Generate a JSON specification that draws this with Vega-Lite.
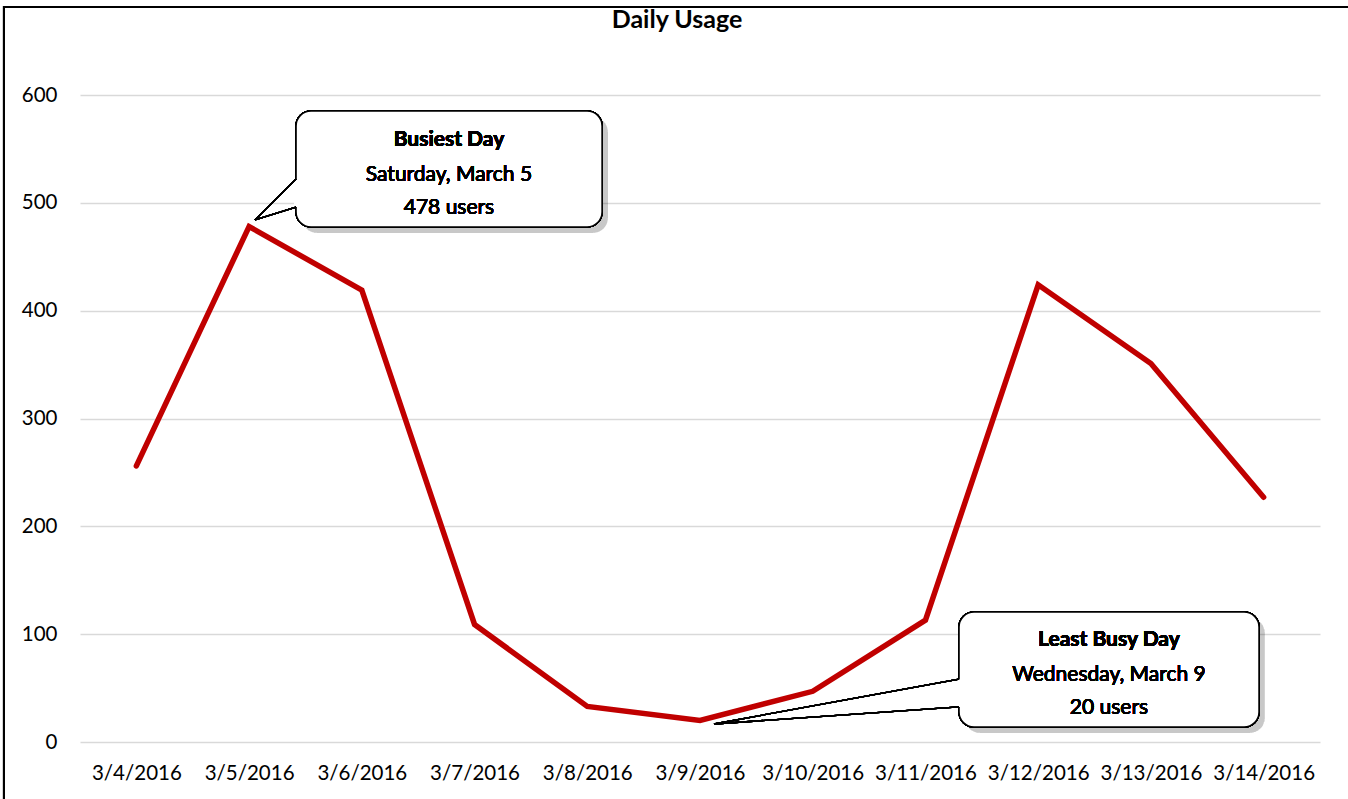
{
  "$schema": "https://vega.github.io/schema/vega-lite/v6.json",
  "autosize": "none",
  "width": 1240,
  "height": 647,
  "padding": {"left": 80, "top": 95, "right": 28, "bottom": 57},
  "background": "white",
  "config": {
    "view": {"stroke": null},
    "font": "Lato",
    "axis": {"labelFont": "Lato", "labelFontSize": 20.5, "labelColor": "#000000", "domain": false, "ticks": false, "gridColor": "#d9d9d9", "gridWidth": 1.3}
  },
  "title": {"text": "Daily Usage", "font": "Lato", "fontSize": 25, "fontWeight": "bold", "color": "#000000", "anchor": "middle", "dx": -23, "dy": 61, "baseline": "alphabetic", "offset": 14},
  "data": {
    "values": [
      {"date": "2016-03-04", "users": 256},
      {"date": "2016-03-05", "users": 478},
      {"date": "2016-03-06", "users": 419},
      {"date": "2016-03-07", "users": 109},
      {"date": "2016-03-08", "users": 33},
      {"date": "2016-03-09", "users": 20},
      {"date": "2016-03-10", "users": 47},
      {"date": "2016-03-11", "users": 113},
      {"date": "2016-03-12", "users": 424},
      {"date": "2016-03-13", "users": 351},
      {"date": "2016-03-14", "users": 227}
    ]
  },
  "encoding": {
    "x": {"field": "date", "type": "temporal",
      "scale": {"type": "utc", "domain": [{"year": 2016, "month": 3, "date": 3, "hours": 12, "utc": true}, {"year": 2016, "month": 3, "date": 14, "hours": 12, "utc": true}]},
      "axis": {"title": null, "format": "%-m/%-d/%Y", "tickCount": {"interval": "day", "step": 1}, "grid": false, "labelPadding": 21, "labelAngle": 0, "labelOverlap": false, "labelFlush": false}},
    "y": {"field": "users", "type": "quantitative",
      "scale": {"domain": [0, 600], "nice": false},
      "axis": {"title": null, "values": [0, 100, 200, 300, 400, 500, 600], "labelPadding": 23, "grid": true}}
  },
  "layer": [
    {"mark": {"type": "line", "color": "#C00000", "strokeWidth": 5.5, "strokeCap": "round", "strokeJoin": "miter"}},
    {
      "mark": {"type": "rect", "fill": "none", "stroke": "#000000", "strokeWidth": 2},
      "encoding": {
        "x": {"datum": {"year": 2016, "month": 3, "date": 2, "hours": 19, "minutes": 49, "utc": true}},
        "x2": {"datum": {"year": 2016, "month": 3, "date": 17, "utc": true}},
        "y": {"datum": 681.6},
        "y2": {"datum": -150}
      }
    },
    {
      "mark": {"type": "rect", "fill": "#000000", "opacity": 0.02, "cornerRadius": 15},
      "encoding": {
        "x": {"datum": {"year": 2016, "month": 3, "date": 5, "hours": 11, "minutes": 15, "utc": true}},
        "x2": {"datum": {"year": 2016, "month": 3, "date": 8, "hours": 4, "minutes": 25, "utc": true}},
        "y": {"datum": 472},
        "y2": {"datum": 579.6}
      }
    },
    {
      "mark": {"type": "rect", "fill": "#000000", "opacity": 0.02, "cornerRadius": 15},
      "encoding": {
        "x": {"datum": {"year": 2016, "month": 3, "date": 11, "hours": 8, "minutes": 24, "utc": true}},
        "x2": {"datum": {"year": 2016, "month": 3, "date": 14, "hours": 0, "minutes": 16, "utc": true}},
        "y": {"datum": 8.3},
        "y2": {"datum": 115}
      }
    },
    {
      "mark": {"type": "rect", "fill": "#ffffff", "stroke": "#000000", "strokeWidth": 1.5, "cornerRadius": 15},
      "encoding": {
        "x": {"datum": {"year": 2016, "month": 3, "date": 5, "hours": 10, "minutes": 0, "utc": true}},
        "x2": {"datum": {"year": 2016, "month": 3, "date": 8, "hours": 3, "minutes": 9, "utc": true}},
        "y": {"datum": 477.6},
        "y2": {"datum": 585.2}
      }
    },
    {
      "mark": {"type": "rect", "fill": "#ffffff", "stroke": "#000000", "strokeWidth": 1.5, "cornerRadius": 15},
      "encoding": {
        "x": {"datum": {"year": 2016, "month": 3, "date": 11, "hours": 7, "minutes": 9, "utc": true}},
        "x2": {"datum": {"year": 2016, "month": 3, "date": 13, "hours": 23, "minutes": 1, "utc": true}},
        "y": {"datum": 13.9},
        "y2": {"datum": 120.6}
      }
    },
    {
      "mark": {"type": "rule", "color": "#ffffff", "strokeWidth": 3},
      "encoding": {
        "x": {"datum": {"year": 2016, "month": 3, "date": 5, "hours": 10, "minutes": 0, "utc": true}},
        "y": {"datum": 496.1},
        "y2": {"datum": 522.1}
      }
    },
    {
      "mark": {"type": "rule", "color": "#ffffff", "strokeWidth": 3},
      "encoding": {
        "x": {"datum": {"year": 2016, "month": 3, "date": 11, "hours": 7, "minutes": 9, "utc": true}},
        "y": {"datum": 32.5},
        "y2": {"datum": 58.4}
      }
    },
    {
      "mark": {"type": "rule", "color": "#000000", "strokeWidth": 1.3},
      "encoding": {
        "x": {"datum": {"year": 2016, "month": 3, "date": 5, "hours": 1, "minutes": 15, "utc": true}},
        "y": {"datum": 484.1},
        "x2": {"datum": {"year": 2016, "month": 3, "date": 5, "hours": 10, "minutes": 0, "utc": true}},
        "y2": {"datum": 522.1}
      }
    },
    {
      "mark": {"type": "rule", "color": "#000000", "strokeWidth": 1.3},
      "encoding": {
        "x": {"datum": {"year": 2016, "month": 3, "date": 5, "hours": 1, "minutes": 15, "utc": true}},
        "y": {"datum": 484.1},
        "x2": {"datum": {"year": 2016, "month": 3, "date": 5, "hours": 10, "minutes": 0, "utc": true}},
        "y2": {"datum": 496.1}
      }
    },
    {
      "mark": {"type": "rule", "color": "#000000", "strokeWidth": 1.3},
      "encoding": {
        "x": {"datum": {"year": 2016, "month": 3, "date": 9, "hours": 2, "minutes": 59, "utc": true}},
        "y": {"datum": 16.7},
        "x2": {"datum": {"year": 2016, "month": 3, "date": 11, "hours": 7, "minutes": 9, "utc": true}},
        "y2": {"datum": 58.4}
      }
    },
    {
      "mark": {"type": "rule", "color": "#000000", "strokeWidth": 1.3},
      "encoding": {
        "x": {"datum": {"year": 2016, "month": 3, "date": 9, "hours": 2, "minutes": 59, "utc": true}},
        "y": {"datum": 16.7},
        "x2": {"datum": {"year": 2016, "month": 3, "date": 11, "hours": 7, "minutes": 9, "utc": true}},
        "y2": {"datum": 32.5}
      }
    },
    {
      "mark": {"type": "text", "font": "Lato", "fontSize": 21, "fontWeight": "bold", "align": "center", "baseline": "alphabetic", "color": "#000000", "text": "Busiest Day"},
      "encoding": {
        "x": {"datum": {"year": 2016, "month": 3, "date": 6, "hours": 18, "minutes": 33, "utc": true}},
        "y": {"datum": 553.0}
      }
    },
    {
      "mark": {"type": "text", "font": "Lato", "fontSize": 21, "align": "center", "baseline": "alphabetic", "color": "#000000", "text": "Saturday, March 5"},
      "encoding": {
        "x": {"datum": {"year": 2016, "month": 3, "date": 6, "hours": 18, "minutes": 33, "utc": true}},
        "y": {"datum": 520.2}
      }
    },
    {
      "mark": {"type": "text", "font": "Lato", "fontSize": 21, "align": "center", "baseline": "alphabetic", "color": "#000000", "text": "478 users"},
      "encoding": {
        "x": {"datum": {"year": 2016, "month": 3, "date": 6, "hours": 18, "minutes": 33, "utc": true}},
        "y": {"datum": 489.6}
      }
    },
    {
      "mark": {"type": "text", "font": "Lato", "fontSize": 21, "fontWeight": "bold", "align": "center", "baseline": "alphabetic", "color": "#000000", "text": "Least Busy Day"},
      "encoding": {
        "x": {"datum": {"year": 2016, "month": 3, "date": 12, "hours": 15, "minutes": 4, "utc": true}},
        "y": {"datum": 89.3}
      }
    },
    {
      "mark": {"type": "text", "font": "Lato", "fontSize": 21, "align": "center", "baseline": "alphabetic", "color": "#000000", "text": "Wednesday, March 9"},
      "encoding": {
        "x": {"datum": {"year": 2016, "month": 3, "date": 12, "hours": 15, "minutes": 4, "utc": true}},
        "y": {"datum": 56.6}
      }
    },
    {
      "mark": {"type": "text", "font": "Lato", "fontSize": 21, "align": "center", "baseline": "alphabetic", "color": "#000000", "text": "20 users"},
      "encoding": {
        "x": {"datum": {"year": 2016, "month": 3, "date": 12, "hours": 15, "minutes": 4, "utc": true}},
        "y": {"datum": 26.0}
      }
    }
  ]
}
